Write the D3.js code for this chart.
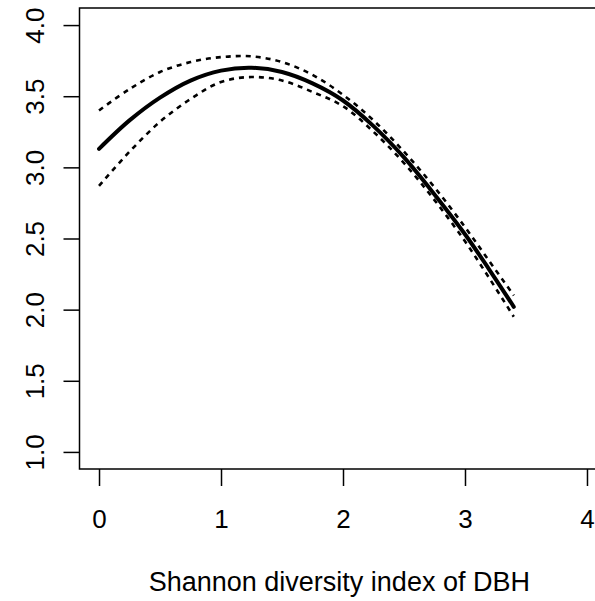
<!DOCTYPE html>
<html>
<head>
<meta charset="utf-8">
<script src="https://cdn.jsdelivr.net/npm/d3@7"></script>
<style>
  body { margin: 0; background: #fff; }
  svg { display: block; font-family: Arial, "Liberation Sans", sans-serif; }
</style>
</head>
<body>
<div id="chart"></div>
<script>
// fitted curve with confidence band
const xs    = [0, 0.25, 0.5, 0.75, 1, 1.25, 1.5, 1.75, 2, 2.25, 2.5, 2.75, 3, 3.2, 3.4];
const fit   = [3.13, 3.33, 3.49, 3.61, 3.68, 3.70, 3.67, 3.59, 3.47, 3.29, 3.07, 2.81, 2.53, 2.28, 2.02];
const upper = [3.40, 3.55, 3.67, 3.74, 3.775, 3.78, 3.74, 3.65, 3.51, 3.33, 3.11, 2.86, 2.58, 2.34, 2.10];
const lower = [2.87, 3.11, 3.32, 3.48, 3.60, 3.635, 3.61, 3.53, 3.43, 3.25, 3.03, 2.77, 2.48, 2.22, 1.95];

const xTicks = [0, 1, 2, 3, 4];
const yTicks = [1.0, 1.5, 2.0, 2.5, 3.0, 3.5, 4.0];
const xLabel = "Shannon diversity index of DBH";

const width = 595, height = 601;
const box = { left: 79.5, top: 8, right: 606.5, bottom: 469 };

const svg = d3.select("#chart").append("svg")
  .attr("width", width)
  .attr("height", height);

// R style: 4% padding on each side of the data range
const x = d3.scaleLinear().domain([-0.16, 4.16]).range([box.left, box.right]);
const y = d3.scaleLinear().domain([0.88, 4.12]).range([box.bottom, box.top]);

// axes
const gx = svg.append("g")
  .attr("transform", `translate(0,${box.bottom})`)
  .call(d3.axisBottom(x).tickValues(xTicks).tickSize(17).tickSizeOuter(0).tickFormat(d3.format("d")));
gx.select(".domain").remove();
gx.selectAll("line").attr("stroke", "#000").attr("stroke-width", 1.5);
gx.selectAll("text")
  .attr("y", 59)
  .attr("dy", 0)
  .attr("font-size", 26)
  .attr("fill", "#000");

const gy = svg.append("g")
  .attr("transform", `translate(${box.left},0)`)
  .call(d3.axisLeft(y).tickValues(yTicks).tickSize(16).tickSizeOuter(0).tickFormat(d3.format(".1f")));
gy.select(".domain").remove();
gy.selectAll("line").attr("stroke", "#000").attr("stroke-width", 1.5);
gy.selectAll("text")
  .attr("transform", "rotate(-90)")
  .attr("x", 0)
  .attr("y", -36)
  .attr("dy", 0)
  .attr("text-anchor", "middle")
  .attr("font-size", 26)
  .attr("fill", "#000");

// plot box
svg.append("rect")
  .attr("x", box.left)
  .attr("y", box.top)
  .attr("width", box.right - box.left)
  .attr("height", box.bottom - box.top)
  .attr("fill", "none")
  .attr("stroke", "#000")
  .attr("stroke-width", 1.5);

// x label
svg.append("text")
  .attr("x", x(1.97))
  .attr("y", 591)
  .attr("text-anchor", "middle")
  .attr("font-size", 27)
  .attr("fill", "#000")
  .text(xLabel);

// curves
const line = d3.line()
  .x((d) => x(d[0]))
  .y((d) => y(d[1]))
  .curve(d3.curveCatmullRom);

const pairs = (vals) => xs.map((v, i) => [v, vals[i]]);

svg.append("path")
  .attr("d", line(pairs(upper)))
  .attr("fill", "none")
  .attr("stroke", "#000")
  .attr("stroke-width", 2.6)
  .attr("stroke-dasharray", "5,5");

svg.append("path")
  .attr("d", line(pairs(lower)))
  .attr("fill", "none")
  .attr("stroke", "#000")
  .attr("stroke-width", 2.6)
  .attr("stroke-dasharray", "5,5");

svg.append("path")
  .attr("d", line(pairs(fit)))
  .attr("fill", "none")
  .attr("stroke", "#000")
  .attr("stroke-width", 4)
  .attr("stroke-linecap", "round");
</script>
</body>
</html>
